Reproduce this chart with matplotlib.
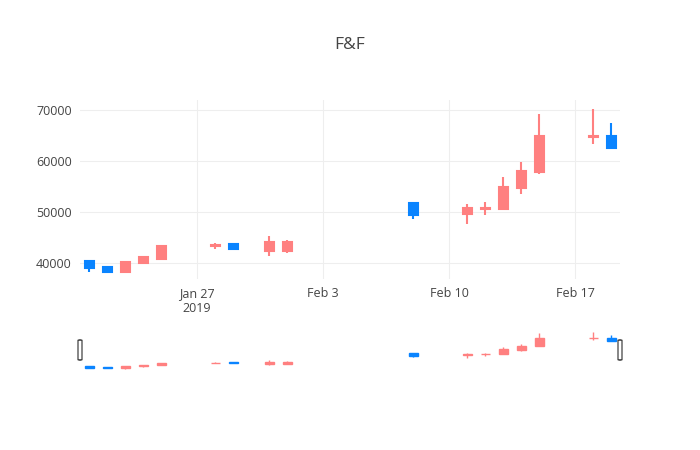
import matplotlib
matplotlib.use("Agg")
import matplotlib.pyplot as plt
import matplotlib.dates as mdates
import matplotlib.patches as mpatches
import numpy as np
import pandas as pd

# colours
UP    = "#ff8080"
DOWN  = "#0a84ff"
GRID  = "#eeeeee"
TEXT  = "#444444"

plt.rcParams.update({
    "font.family": ["Open Sans", "DejaVu Sans"],
    "font.size": 9,
})

# ── data ──────────────────────────────────────────────────────────────────────
dates = ["2019-01-21", "2019-01-22", "2019-01-23", "2019-01-24", "2019-01-25",
         "2019-01-28", "2019-01-29", "2019-01-31", "2019-02-01", "2019-02-08",
         "2019-02-11", "2019-02-12", "2019-02-13", "2019-02-14", "2019-02-15",
         "2019-02-18", "2019-02-19"]
opens  = [40450, 39300, 38250, 39950, 40850, 43300, 43650, 42400, 42400, 51700,
          49600, 50550, 50600, 54750, 57900, 64700, 64900]
highs  = [40450, 39300, 40450, 41150, 43400, 44000, 43650, 45250, 44500, 52000,
          51500, 51900, 56800, 59750, 69200, 70200, 67500]
lows   = [38300, 38250, 38000, 39750, 40850, 42750, 42750, 41300, 41900, 48550,
          47600, 49400, 50600, 53450, 57550, 63300, 62500]
closes = [38950, 38250, 40250, 41150, 43400, 43450, 42750, 44100, 44050, 49400,
          50700, 50800, 55000, 58100, 64900, 64900, 62500]

tick_dates  = ["2019-01-27", "2019-02-03", "2019-02-10", "2019-02-17"]
tick_labels = ["Jan 27\n2019", "Feb 3", "Feb 10", "Feb 17"]
y_ticks     = [40000, 50000, 60000, 70000]

x = mdates.date2num(pd.to_datetime(dates))
o = np.array(opens, dtype=float)
h = np.array(highs, dtype=float)
l = np.array(lows, dtype=float)
c = np.array(closes, dtype=float)


def draw_candles(ax, lw_wick, lw_box, width=0.5):
    up = c >= o
    colors = np.where(up, UP, DOWN)
    ax.vlines(x, l, h, colors=colors, linewidth=lw_wick, zorder=3)
    body_lo = np.minimum(o, c)
    body_h = np.maximum(np.abs(c - o), 1)
    ax.bar(x, body_h, width, bottom=body_lo, color=colors, edgecolor=colors,
           linewidth=lw_box, zorder=4)


fig = plt.figure(figsize=(7, 4.5), dpi=100)
fig.patch.set_facecolor("white")

# main plot
ax = fig.add_axes([80 / 700, (450 - 279) / 450, 540 / 700, 179 / 450])
draw_candles(ax, 1.5, 1.5)

xmin, xmax = x.min() - 0.5, x.max() + 0.5
span = h.max() - l.min()
ylo, yhi = l.min() - span * 0.035, h.max() + span * 0.055
ax.set_xlim(xmin, xmax)
ax.set_ylim(ylo, yhi)

ax.set_xticks(mdates.date2num(pd.to_datetime(tick_dates)))
ax.set_xticklabels(tick_labels)
ax.set_yticks(y_ticks)
ax.set_yticklabels([str(v) for v in y_ticks])
ax.tick_params(length=0, colors=TEXT, labelsize=9, pad=6)
ax.grid(True, color=GRID, linewidth=0.8, zorder=0)
ax.set_axisbelow(True)
for s in ax.spines.values():
    s.set_visible(False)

fig.text(0.5, 1 - 45 / 450, "F&F", ha="center", va="center",
         fontsize=12.5, color=TEXT)

# range slider
rs = fig.add_axes([80 / 700, (450 - 370) / 450, 540 / 700, 40 / 450])
draw_candles(rs, 1.0, 1.0)
rs.set_xlim(xmin, xmax)
rs.set_ylim(ylo, yhi)
rs.set_xticks([])
rs.set_yticks([])
for s in rs.spines.values():
    s.set_visible(False)

for hx in (0.0, 1.0):
    rs.add_patch(mpatches.FancyBboxPatch(
        (hx - 2 / 540, 0.25), 4 / 540, 0.5,
        boxstyle="round,pad=0,rounding_size=0.004",
        transform=rs.transAxes, clip_on=False,
        facecolor="white", edgecolor="#444444", linewidth=0.9, zorder=6,
    ))

fig.savefig("out.png", dpi=100)
